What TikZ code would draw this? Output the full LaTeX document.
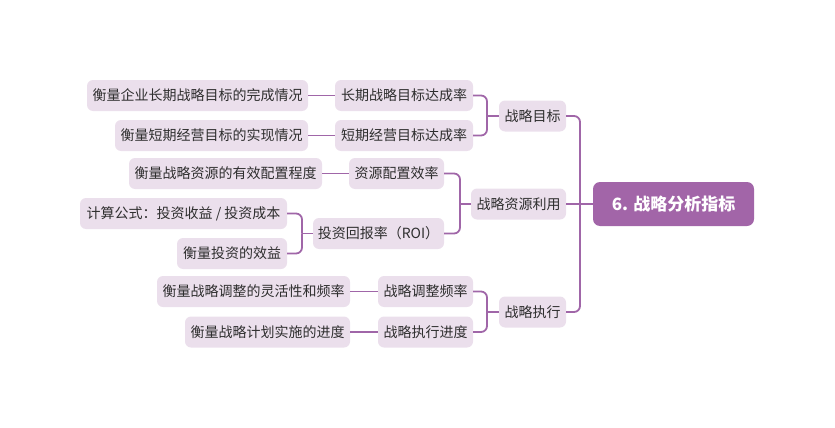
\documentclass[tikz,border=0pt]{standalone}
\usepackage{fontspec}
\setmainfont{Noto Sans CJK SC}
\usetikzlibrary{calc}
\definecolor{lineC}{HTML}{A066A8}
\definecolor{boxC}{HTML}{EBDFEC}
\definecolor{rootC}{HTML}{A265A8}
\definecolor{txtC}{HTML}{2E2E2E}
\tikzset{
 topic/.style={fill=boxC, rounded corners=6pt, minimum height=31pt, inner xsep=2pt, inner ysep=0pt, font=\fontsize{14}{16}\selectfont, text=txtC},
 rootnode/.style={fill=rootC, rounded corners=7pt, minimum height=44pt, minimum width=161pt, font=\fontsize{17}{20}\selectfont\bfseries, text=white},
 conn/.style={draw=lineC, line width=1.8pt, rounded corners=6pt}
}
\begin{document}
\begin{tikzpicture}[x=1pt,y=-1pt]
\useasboundingbox (0,0) rectangle (835,428);
\node[rootnode] (root) at (673.5,204) {6. 战略分析指标};
\node[topic, minimum width=67] (g1) at (532.5,116) {战略目标};
\node[topic, minimum width=95] (g2) at (518.5,204) {战略资源利用};
\node[topic, minimum width=67] (g3) at (532.5,312) {战略执行};
\node[topic, minimum width=138] (a1) at (404,95.5) {长期战略目标达成率};
\node[topic, minimum width=138] (a2) at (404,135.5) {短期经营目标达成率};
\node[topic, minimum width=221] (a1x) at (197.5,95.5) {衡量企业长期战略目标的完成情况};
\node[topic, minimum width=193] (a2x) at (211.5,135.5) {衡量短期经营目标的实现情况};
\node[topic, minimum width=95] (b1) at (396.5,173.5) {资源配置效率};
\node[topic, minimum width=193] (b1x) at (225.5,173.5) {衡量战略资源的有效配置程度};
\node[topic, minimum width=131] (b2) at (378.5,233.5) {投资回报率（ROI）};
\node[topic, minimum width=207] (b2x) at (183.5,213.5) {计算公式：投资收益 / 投资成本};
\node[topic, minimum width=110] (b2y) at (232,253.5) {衡量投资的效益};
\node[topic, minimum width=95] (c1) at (425.5,291.5) {战略调整频率};
\node[topic, minimum width=95] (c2) at (425.5,332) {战略执行进度};
\node[topic, minimum width=193] (c1x) at (253.5,291.5) {衡量战略调整的灵活性和频率};
\node[topic, minimum width=165] (c2x) at (267.5,332) {衡量战略计划实施的进度};
\coordinate (j0) at (580,204);
\coordinate (j1) at (487,116);
\coordinate (j2) at (460,204);
\coordinate (j3) at (302,233.5);
\coordinate (j4) at (487,312);
\draw[conn] (root.west) -- (j0);
\draw[conn] (j0) |- (g1.east);
\draw[conn] (j0) |- (g3.east);
\draw[conn] (j0) -- (g2.east);
\draw[conn] (g1.west) -- (j1);
\draw[conn] (j1) |- (a1.east);
\draw[conn] (j1) |- (a2.east);
\draw[conn] (g2.west) -- (j2);
\draw[conn] (j2) |- (b1.east);
\draw[conn] (j2) |- (b2.east);
\draw[conn] (b2.west) -- (j3);
\draw[conn] (j3) |- (b2x.east);
\draw[conn] (j3) |- (b2y.east);
\draw[conn] (g3.west) -- (j4);
\draw[conn] (j4) |- (c1.east);
\draw[conn] (j4) |- (c2.east);
\draw[conn] (a1x.east) -- (a1.west);
\draw[conn] (a2x.east) -- (a2.west);
\draw[conn] (b1x.east) -- (b1.west);
\draw[conn] (c1x.east) -- (c1.west);
\draw[conn] (c2x.east) -- (c2.west);
\end{tikzpicture}
\end{document}
